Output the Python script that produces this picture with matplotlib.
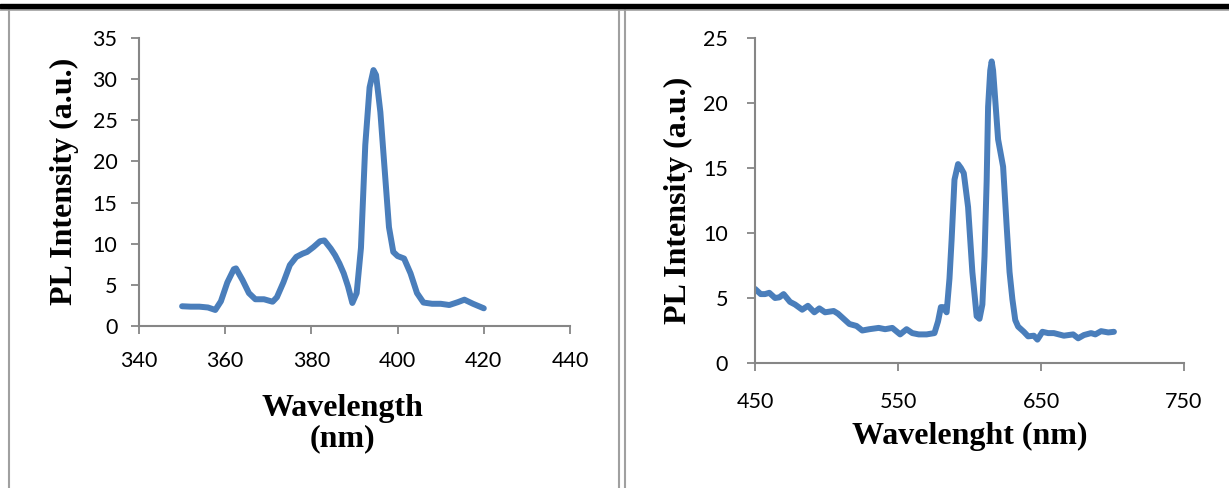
import matplotlib
matplotlib.use("Agg")
import matplotlib.pyplot as plt
from matplotlib.lines import Line2D
from matplotlib.patches import Rectangle

# excitation spectrum (left)
wl_exc = [350, 352, 354, 356, 357.7, 359, 360.5, 362, 362.5, 364, 365.5, 367, 369, 371, 372,
          373.5, 375, 376.5, 378, 379, 380.5, 382, 383, 384.5, 385.5, 386.5, 387.5, 388.5,
          389.5, 390.5, 391.5, 392.5, 393.5, 394.4, 395, 396, 397, 398, 399, 400, 401.5,
          403, 404.5, 406, 408, 410, 412, 414, 415.5, 417.5, 420]
pl_exc = [2.4, 2.35, 2.35, 2.25, 1.95, 3.0, 5.3, 6.9, 7.0, 5.6, 4.0, 3.25, 3.25, 2.95, 3.5,
          5.3, 7.4, 8.4, 8.8, 9.0, 9.6, 10.3, 10.4, 9.4, 8.6, 7.6, 6.4, 4.8,
          2.8, 4.0, 9.5, 22, 29, 31.1, 30.5, 26, 19, 12, 9.0, 8.5, 8.2,
          6.4, 4.0, 2.85, 2.7, 2.7, 2.55, 2.9, 3.2, 2.7, 2.15]

# emission spectrum (right)
wl_em = [450, 454, 457, 460, 464, 467, 470, 474.5, 478, 483, 487, 491.5, 495, 499, 505, 508,
         511, 516, 521, 525, 530, 536.5, 541, 546, 551.5, 556, 560, 564.5, 570, 575.5, 578,
         580, 581.5, 584, 586, 587.5, 589.5, 592, 594, 596, 599, 602, 605, 607, 609, 610.5,
         612, 613, 614.5, 615.5, 616.5, 617.5, 620, 623.5, 626, 628, 630, 632, 634, 638, 641,
         645, 647.5, 651, 655, 659, 666, 672.5, 676, 680, 685, 688, 692, 697, 701]
pl_em = [5.7, 5.3, 5.3, 5.4, 5.0, 5.05, 5.3, 4.7, 4.5, 4.1, 4.4, 3.9, 4.2, 3.9, 4.0, 3.8,
         3.5, 3.0, 2.85, 2.5, 2.6, 2.7, 2.6, 2.7, 2.2, 2.6, 2.3, 2.2, 2.2, 2.3, 3.2,
         4.3, 4.3, 3.9, 6.5, 9.5, 14.1, 15.3, 15.0, 14.6, 12, 7, 3.6, 3.4, 4.5, 8.2,
         14, 19.7, 22.5, 23.2, 22.5, 21, 17.2, 15.1, 10.5, 7, 4.9, 3.3, 2.8, 2.4, 2.05,
         2.1, 1.8, 2.4, 2.3, 2.3, 2.1, 2.2, 1.9, 2.15, 2.3, 2.2, 2.45, 2.35, 2.4]

W, H = 1229, 488
fig = plt.figure(figsize=(W / 100, H / 100), dpi=100)

line_col = '#4A7EBB'
axis_col = '#868686'
tick_font = 'Lato'
label_font = 'Liberation Serif'


def style_axes(ax, xpad, ypad):
    for s in ['top', 'right']:
        ax.spines[s].set_visible(False)
    for s in ['left', 'bottom']:
        ax.spines[s].set_color(axis_col)
        ax.spines[s].set_linewidth(1.5)
    ax.tick_params(axis='both', direction='out', length=6, width=1.3, color=axis_col,
                   labelsize=15.5)
    ax.tick_params(axis='x', pad=xpad)
    ax.tick_params(axis='y', pad=ypad)
    for lab in ax.get_xticklabels() + ax.get_yticklabels():
        lab.set_fontfamily(tick_font)


# left chart
ax1 = fig.add_axes([139 / W, 1 - 326 / H, (570 - 139) / W, 288 / H])
ax1.plot(wl_exc, pl_exc, color=line_col, lw=4.3, solid_joinstyle='round', solid_capstyle='round')
ax1.set_xlim(340, 440)
ax1.set_ylim(0, 35)
ax1.set_xticks(range(340, 441, 20))
ax1.set_yticks(range(0, 36, 5))
style_axes(ax1, 12, 9.5)

# right chart
ax2 = fig.add_axes([755 / W, 1 - 363 / H, (1184 - 755) / W, 325 / H])
ax2.plot(wl_em, pl_em, color=line_col, lw=4.3, solid_joinstyle='round', solid_capstyle='round')
ax2.set_xlim(450, 750)
ax2.set_ylim(0, 25)
ax2.set_xticks(range(450, 751, 100))
ax2.set_yticks(range(0, 26, 5))
style_axes(ax2, 15, 13.5)

# axis titles
fig.text(342 / W, 1 - 424 / H, 'Wavelength\n(nm)', ha='center', va='center', multialignment='center',
         fontsize=23, fontweight='bold', family=label_font, linespacing=1.05)
fig.text(64 / W, 1 - 181 / H, 'PL Intensity (a.u.)', rotation=90, ha='center', va='center',
         fontsize=23, fontweight='bold', family=label_font)
fig.text(970 / W, 1 - 436 / H, 'Wavelenght (nm)', ha='center', va='center',
         fontsize=23, fontweight='bold', family=label_font)
fig.text(678 / W, 1 - 200 / H, 'PL Intensity (a.u.)', rotation=90, ha='center', va='center',
         fontsize=23, fontweight='bold', family=label_font)

# page decoration: rule and table borders
fig.patches.append(Rectangle((0, 1 - 8 / H), 1, 4 / H, transform=fig.transFigure,
                             color='black', zorder=5))
grey = '#A0A0A0'
fig.lines.append(Line2D([0, 1], [1 - 9.5 / H, 1 - 9.5 / H], transform=fig.transFigure,
                        color=grey, lw=1.2))
for px in [9, 619.5, 624.5]:
    fig.lines.append(Line2D([px / W, px / W], [0, 1 - 8 / H], transform=fig.transFigure,
                            color=grey, lw=1.5))

fig.savefig('out.png', dpi=100)
